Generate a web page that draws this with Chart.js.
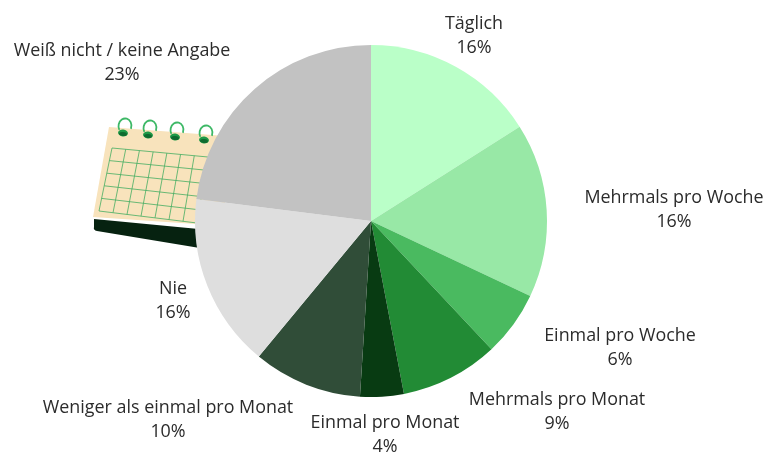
<!DOCTYPE html>
<html><head><meta charset="utf-8">
<script src="https://cdn.jsdelivr.net/npm/chart.js@4"></script>
<style>html,body{margin:0;padding:0;background:#fff}#w{width:766px;height:452px;position:relative}</style>
</head><body><div id="w"><canvas id="c" width="766" height="452"></canvas></div>
<script>
const categories = ["Täglich","Mehrmals pro Woche","Einmal pro Woche","Mehrmals pro Monat","Einmal pro Monat","Weniger als einmal pro Monat","Nie","Weiß nicht / keine Angabe"];
const values = [16,16,6,9,4,10,16,23];
const colors = ["#BAFFC8","#98E8A6","#4ABA60","#228B35","#083B12","#304D38","#DEDEDE","#C2C2C2"];
const labelCenters = [[474,36],[674,210],[620,348],[557,412],[385,435],[168,420],[173,301],[122,63]];

const calendar = {
  id:'calendar',
  beforeDatasetsDraw(ch){
    const x = ch.ctx;
    x.save();
    x.fillStyle='#062210';
    x.beginPath();
    x.moveTo(94,219);x.lineTo(230,232);x.lineTo(230,253);x.lineTo(97,231);x.quadraticCurveTo(93,230,94,227);x.closePath();
    x.fill();
    x.fillStyle='#F8E3BC';
    x.beginPath();
    x.moveTo(109,127);x.lineTo(225,136);x.lineTo(225,226);x.lineTo(93,217);x.closePath();
    x.fill();
    x.strokeStyle='#45AD62';x.lineWidth=0.8;
    const tl=[112,148],tr=[208,157],bl=[99,211],br=[197,223];
    const lerp=(a,b,t)=>[a[0]+(b[0]-a[0])*t,a[1]+(b[1]-a[1])*t];
    for(let i=0;i<=5;i++){
      const t=i/5,a=lerp(tl,bl,t),b=lerp(tr,br,t);
      x.beginPath();x.moveTo(a[0],a[1]);x.lineTo(b[0],b[1]);x.stroke();
    }
    for(let i=0;i<=7;i++){
      const t=i/7,a=lerp(tl,tr,t),b=lerp(bl,br,t);
      x.beginPath();x.moveTo(a[0],a[1]);x.lineTo(b[0],b[1]);x.stroke();
    }
    [[123,133],[148,135],[175,137],[204,140]].forEach(p=>{
      x.fillStyle='#1E9A48';
      x.beginPath();x.ellipse(p[0],p[1],5,3.5,0.1,0,Math.PI*2);x.fill();
      x.fillStyle='#0F6B30';
      x.beginPath();x.ellipse(p[0],p[1]+1,4,2,0.1,0,Math.PI*2);x.fill();
      x.strokeStyle='#3DB866';x.lineWidth=1.8;
      x.beginPath();x.ellipse(p[0]+2,p[1]-7,6.5,7.5,0.1,Math.PI*0.8,Math.PI*2.1);x.stroke();
    });
    x.restore();
  }
};
const labels = {
  id:'labels',
  afterDraw(ch){
    const x=ch.ctx;
    x.save();
    x.font='17.9px "Open Sans"';x.fillStyle='#2b2b2b';x.textAlign='center';x.textBaseline='middle';
    categories.forEach((n,i)=>{
      const [cx,cy]=labelCenters[i];
      x.fillText(n,cx,cy-12);
      x.fillText(values[i]+'%',cx,cy+12);
    });
    x.restore();
  }
};
new Chart(document.getElementById('c'),{
  type:'pie',
  data:{labels:categories,datasets:[{data:values,backgroundColor:colors,borderWidth:0,radius:176}]},
  options:{responsive:false,animation:false,
    layout:{padding:{left:0,right:24,top:0,bottom:10}},
    plugins:{legend:{display:false},tooltip:{enabled:false}}},
  plugins:[calendar,labels]
});
</script></body></html>
